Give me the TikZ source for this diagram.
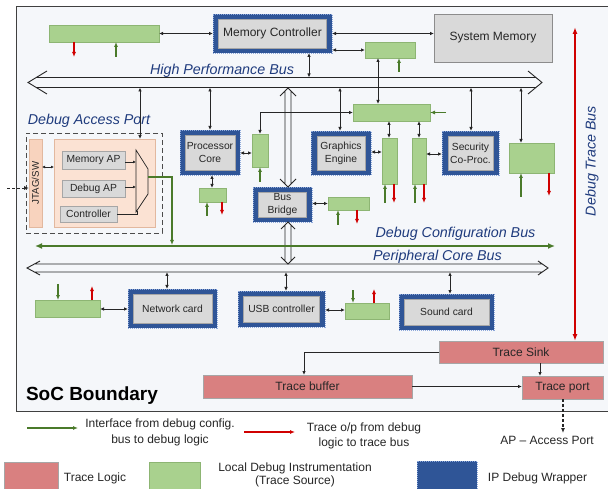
\documentclass[tikz,border=0pt]{standalone}
\usepackage{fontspec}
\setmainfont{Liberation Sans}
\usetikzlibrary{arrows.meta}

\definecolor{cBg}{HTML}{F5F7FA}
\definecolor{cBorder}{HTML}{404040}
\definecolor{cWrap}{HTML}{2F5597}
\definecolor{cWrapE}{HTML}{8EA9DB}
\definecolor{cIp}{HTML}{D9D9D9}
\definecolor{cIpE}{HTML}{A6A6A6}
\definecolor{cGfill}{HTML}{A9D18E}
\definecolor{cGedge}{HTML}{8DB573}
\definecolor{cGreen}{HTML}{4A7A2A}
\definecolor{cRed}{HTML}{D00000}
\definecolor{cTrace}{HTML}{D98080}
\definecolor{cPeach}{HTML}{FBE2D3}
\definecolor{cPeachE}{HTML}{E2B89F}
\definecolor{cJtag}{HTML}{F8D3BE}
\definecolor{cBus}{HTML}{1F3B7D}
\definecolor{cTxt}{HTML}{262626}

\tikzset{
  every node/.style={inner sep=0pt, outer sep=0pt},
  gbox/.style={draw=cGedge, fill=cGfill, line width=0.8pt},
  wrap/.style={draw=cWrapE, fill=cWrap, dash pattern=on 1pt off 1pt, line width=0.8pt},
  ipbox/.style={draw=cIpE, fill=cIp, line width=0.6pt, text=cTxt, align=center,
    font=\fontsize{10.3}{12.7}\selectfont},
  tbox/.style={draw=cIpE, fill=cTrace, line width=0.8pt, text=cTxt,
    font=\fontsize{12}{14}\selectfont},
  conn/.style={draw=black!85, line width=0.9pt},
  dar/.style={conn, {Latex[length=4pt,width=3.5pt]}-{Latex[length=4pt,width=3.5pt]}},
  sar/.style={conn, -{Latex[length=4pt,width=3.5pt]}},
  gst/.style={draw=cGreen, line width=1.1pt, -{Latex[length=5pt,width=4pt]}},
  rst/.style={draw=cRed, line width=1.1pt, -{Latex[length=5pt,width=4pt]}},
  hollow/.style={draw=black!85, line width=0.9pt},
  buslbl/.style={text=cBus, font=\fontsize{14.3}{16}\selectfont\itshape},
  lgtext/.style={text=cTxt, align=center, font=\fontsize{12}{16}\selectfont},
}

\begin{document}
\begin{tikzpicture}[x=1pt,y=-1pt]
\useasboundingbox (0,0) rectangle (608,489);
\fill[white] (0,0) rectangle (608,489);
\fill[cBg] (16,7) rectangle (612,411);
\draw[cBorder, line width=1pt] (612,7) -- (16,7) -- (16,411) -- (612,411);

% ---------- nodes: top row
\node[gbox, minimum width=110pt, minimum height=17pt] (g1) at (104,33.5) {};
\node[wrap, minimum width=119pt, minimum height=39pt] (mc) at (272.5,33.5) {};
\node[ipbox, minimum width=108pt, minimum height=29pt, font=\fontsize{12}{14}\selectfont] (mci) at (mc) {Memory Controller};
\node[ipbox, draw=black!45, minimum width=118pt, minimum height=48pt, font=\fontsize{12}{14}\selectfont] (sm) at (493,38) {System Memory};
\node[gbox, minimum width=50pt, minimum height=16pt] (g2) at (390,50) {};

% ---------- HP bus
\node[minimum width=500pt, minimum height=10pt] (hp) at (286,82.5) {};
\draw[hollow] (36.3,77.5) -- (535.9,77.5) (36.3,87.5) -- (535.9,87.5)
  (47,71) -- (28,82.5) -- (47,94) (528,71) -- (542,82.5) -- (528,94);
\node[buslbl] (hpl) at (222,70.5) {High Performance Bus};

% ---------- Debug access port
\node[buslbl] (dapl) at (89,121) {Debug Access Port};
\node[draw=black!70, dash pattern=on 5pt off 3pt, line width=0.9pt, minimum width=136pt, minimum height=100pt] (dapf) at (94,183) {};
\node[draw=cPeachE, fill=cJtag, line width=0.8pt, minimum width=13pt, minimum height=88pt] (jtag) at (35.5,183) {};
\node[rotate=90, text=cTxt, font=\fontsize{9.7}{11}\selectfont] (jtagl) at (jtag) {JTAG/SW};
\node[draw=cPeachE, fill=cPeach, line width=0.8pt, minimum width=101pt, minimum height=88pt] (dap) at (104.5,183) {};
\node[ipbox, minimum width=63pt, minimum height=18pt] (map) at (93.5,160) {Memory AP};
\node[ipbox, minimum width=63pt, minimum height=17pt] (dbap) at (93.5,188.5) {Debug AP};
\node[ipbox, minimum width=57pt, minimum height=16pt] (ctl) at (88.5,214) {Controller};
\draw[conn, line width=0.7pt] (136,150) -- (148,169) -- (148,194) -- (136,212) -- cycle;
\coordinate (muxo) at (148,177);

% ---------- processor / bridge / graphics / security
\node[wrap, minimum width=60pt, minimum height=45pt] (pc) at (210,152.5) {};
\node[ipbox, minimum width=50pt, minimum height=35pt] (pci) at (pc) {Processor\\Core};
\node[gbox, minimum width=16pt, minimum height=33pt] (gp) at (260,150.5) {};
\node[gbox, minimum width=27pt, minimum height=14pt] (gpb) at (212.5,195) {};

\node[wrap, minimum width=59pt, minimum height=35pt] (bb) at (282.5,204.5) {};
\node[ipbox, minimum width=48pt, minimum height=25pt, font=\fontsize{10.3}{13}\selectfont] (bbi) at (bb) {Bus\\Bridge};
\node[gbox, minimum width=41pt, minimum height=13pt] (gbb) at (348.5,203.5) {};

\node[wrap, minimum width=60pt, minimum height=44pt] (ge) at (341,153) {};
\node[ipbox, minimum width=48pt, minimum height=34pt] (gei) at (ge) {Graphics\\Engine};
\node[gbox, minimum width=77pt, minimum height=17pt] (g3) at (391.5,112.5) {};
\node[gbox, minimum width=15pt, minimum height=46pt] (ga) at (389.5,161) {};
\node[gbox, minimum width=14pt, minimum height=46pt] (gb) at (419,161) {};

\node[wrap, minimum width=57pt, minimum height=44pt] (sc) at (470.5,153) {};
\node[ipbox, minimum width=45pt, minimum height=34pt] (sci) at (sc) {Security\\Co-Proc.};
\node[gbox, minimum width=45pt, minimum height=30pt] (gr) at (531.5,158) {};

% ---------- debug configuration bus
\node[minimum width=520pt, minimum height=2pt] (dcb) at (295,246) {};
\node[buslbl] (dcbl) at (455.5,234) {Debug Configuration Bus};

% ---------- peripheral bus
\node[minimum width=508pt, minimum height=8pt] (pcb) at (288.35,268) {};
\draw[hollow] (34.4,264) -- (542.3,264) (34.4,272) -- (542.3,272)
  (40,261) -- (27,268) -- (40,275) (538,261) -- (548,268) -- (538,275);
\node[buslbl] (pcbl) at (437.5,257) {Peripheral Core Bus};

\node[wrap, minimum width=89pt, minimum height=39pt] (nc) at (172.5,308.5) {};
\node[ipbox, minimum width=79pt, minimum height=29pt] (nci) at (nc) {Network card};
\node[wrap, minimum width=87pt, minimum height=36pt] (usb) at (281.5,309) {};
\node[ipbox, minimum width=76pt, minimum height=26pt] (usbi) at (usb) {USB controller};
\node[wrap, minimum width=95pt, minimum height=36pt] (sd) at (446.5,312) {};
\node[ipbox, minimum width=85pt, minimum height=26pt] (sdi) at (sd) {Sound card};
\node[gbox, minimum width=65pt, minimum height=17pt] (gn) at (67.5,308.5) {};
\node[gbox, minimum width=44pt, minimum height=16pt] (gu) at (367,311) {};

% ---------- trace logic
\node[tbox, minimum width=164pt, minimum height=22pt] (sink) at (521,352) {Trace Sink};
\node[tbox, minimum width=209pt, minimum height=23pt] (buf) at (307.5,386.5) {Trace buffer};
\node[tbox, minimum width=81pt, minimum height=23pt] (port) at (562.5,387.5) {Trace port};
\coordinate (dtbtop) at (575,27);
\node[buslbl, rotate=90] (dtbl) at (592,161) {Debug Trace Bus};

\node[font=\fontsize{19}{22}\selectfont\bfseries, anchor=west] (soc) at (26,396) {SoC Boundary};

% ---------- vertical hollow arrows (bus bridge)
\draw[hollow] (285,91) -- (285,184) (291,91) -- (291,184)
  (280,96) -- (288,88) -- (296,96) (280,179) -- (288,187) -- (296,179);
\draw[hollow] (285,225) -- (285,261) (291,225) -- (291,261)
  (281,229) -- (288,222) -- (295,229) (281,257) -- (288,264) -- (295,257);

% ---------- connectors: top
\draw[dar] (g1.east) -- (mc.west);
\draw[dar] (mc.east) -- (mc.east -| sm.west);
\draw[dar] (g2.west -| mc.east) -- (g2.west);
\draw[dar] (mc.south -| 309,0) -- (hp.north -| 309,0);
\draw[dar] (g2.south -| 378,0) -- (g3.north -| 378,0);
\draw[gst] (399,72) -- (g2.south -| 399,0);
\draw[rst] (g1.south -| 74,0) -- (74,57);
\draw[gst] (116,57) -- (g1.south -| 116,0);

% HP bus drops
\draw[dar] (hp.south -| 140,0) -- (dap.north -| 140,0);
\draw[dar] (hp.south -| pc.north) -- (pc.north);
\draw[dar] (hp.south -| 340,0) -- (ge.north -| 340,0);
\draw[dar] (hp.south -| 471,0) -- (sc.north -| 471,0);
\draw[dar] (hp.south -| 521,0) -- (gr.north -| 521,0);

% DAP internals
\draw[dar, {Latex[length=3pt,width=3pt]}-{Latex[length=3pt,width=3pt]}] (jtag.east |- 0,167) -- (dap.west |- 0,167);
\draw[conn, dash pattern=on 3pt off 2pt, -{Latex[length=5pt,width=4pt]}] (7,188) -- (jtag.west |- 0,188);
\draw[sar, line width=0.7pt, -{Latex[length=3pt,width=3pt]}] (map.east |- 0,162) -- (136,162);
\draw[sar, line width=0.7pt, -{Latex[length=3pt,width=3pt]}] (dbap.east |- 0,187) -- (136,187);
\draw[conn, line width=0.7pt] (ctl.east) -| (137,211);
\draw[gst] (muxo) -| (dcb.north -| 172,0);

% processor
\draw[dar] (pc.east |- 0,153) -- (gp.west |- 0,153);
\draw[dar] (gp.north) |- (g3.west);
\draw[dar] (pc.south -| 212,0) -- (gpb.north -| 212,0);
\draw[gst] (207,216) -- (gpb.south -| 207,0);
\draw[rst] (gpb.south -| 222,0) -- (222,215);
\draw[gst] (260,182) -- (gp.south);

% bridge
\draw[dar] (gbb.west -| bb.east) -- (gbb.west);
\draw[gst] (338,225) -- (gbb.south -| 338,0);
\draw[rst] (gbb.south -| 357,0) -- (357,224);

% graphics / security
\draw[dar] (ge.east |- 0,152) -- (ga.west |- 0,152);
\draw[dar] (g3.south -| 389,0) -- (ga.north -| 389,0);
\draw[dar] (g3.south -| 419,0) -- (gb.north -| 419,0);
\draw[gst] (g3.east -| 446,0) -- (g3.east);
\draw[gst] (385,203) -- (ga.south -| 385,0);
\draw[rst] (ga.south -| 394,0) -- (394,203);
\draw[gst] (415,203) -- (gb.south -| 415,0);
\draw[rst] (gb.south -| 424,0) -- (424,203);
\draw[dar] (gb.east |- 0,154) -- (sc.west |- 0,154);
\draw[gst] (521,197) -- (gr.south -| 521,0);
\draw[rst] (gr.south -| 549,0) -- (549,196);

% debug configuration bus
\draw[draw=cGreen, line width=2pt, {Latex[length=7pt,width=6pt]}-{Latex[length=7pt,width=6pt]}] (dcb.west) -- (dcb.east);

% peripherals
\draw[dar] (pcb.south -| 167,0) -- (nc.north -| 167,0);
\draw[dar] (pcb.south -| 286,0) -- (usb.north -| 286,0);
\draw[dar] (pcb.south -| 450,0) -- (sd.north -| 450,0);
\draw[dar] (gn.east |- 0,309) -- (nc.west |- 0,309);
\draw[gst] (58,284) -- (gn.north -| 58,0);
\draw[rst] (gn.north -| 92,0) -- (92,286);
\draw[dar] (usb.east |- 0,310) -- (gu.west |- 0,310);
\draw[gst] (353,290) -- (gu.north -| 353,0);
\draw[rst] (gu.north -| 374,0) -- (374,289);

% trace
\draw[draw=cRed, line width=1.5pt, {Latex[length=7pt,width=5pt]}-{Latex[length=7pt,width=5pt]}] (dtbtop) -- (sink.north -| dtbtop);
\draw[sar] (sink.west) -| (buf.north -| 304,0);
\draw[sar] (sink.south -| 540,0) -- (port.north -| 540,0);
\draw[sar] (buf.east) -- (buf.east -| port.west);
\coordinate (apend) at (563,433);
\draw[conn, line width=1.1pt, dash pattern=on 3pt off 2pt, -{Latex[length=5pt,width=4pt]}] (port.south -| apend) -- (apend);

% ---------- legend
\coordinate (lga) at (27,428);
\coordinate (lgb) at (78,428);
\draw[gst, line width=1.5pt] (lga) -- (lgb);
\node[lgtext] (lg1) at (160,432) {Interface from debug config.\\bus to debug logic};
\coordinate (lgc) at (244,432);
\coordinate (lgd) at (295,432);
\draw[rst, line width=1.5pt] (lgc) -- (lgd);
\node[lgtext, font=\fontsize{12}{15}\selectfont] (lg2) at (364,435.5) {Trace o/p from debug\\logic to trace bus};
\node[lgtext] (lg3) at (547,440) {AP – Access Port};

\node[fill=cTrace, draw=cIpE, line width=0.8pt, minimum width=54pt, minimum height=27pt] (lk1) at (31,475.5) {};
\node[lgtext] (lt1) at (95,478) {Trace Logic};
\node[gbox, minimum width=51pt, minimum height=27pt] (lk2) at (174.5,475.5) {};
\node[lgtext, font=\fontsize{12}{13}\selectfont] (lt2) at (295,475) {Local Debug Instrumentation\\(Trace Source)};
\node[wrap, minimum width=60pt, minimum height=28pt] (lk3) at (447,475) {};
\node[lgtext] (lt3) at (537.5,478) {IP Debug Wrapper};
\end{tikzpicture}
\end{document}
